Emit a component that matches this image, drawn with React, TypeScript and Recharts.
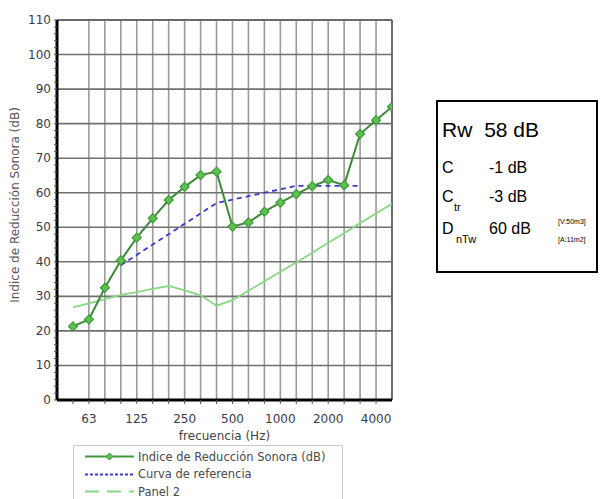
import React from 'react';
import { ComposedChart, Line, XAxis, YAxis, CartesianGrid, ReferenceLine } from 'recharts';

// Third-octave bands (Hz)
const bands = ['50', '63', '80', '100', '125', '160', '200', '250', '315', '400', '500', '630', '800', '1000', '1250', '1600', '2000', '2500', '3150', '4000', '5000'];
// Sound reduction index R (dB)
const reductionIndex = [21.3, 23.3, 32.5, 40.4, 47.0, 52.6, 57.9, 61.7, 65.1, 66.1, 50.2, 51.4, 54.5, 57.1, 59.6, 61.9, 63.7, 62.2, 77.0, 81.0, 84.9];
// Shifted reference curve (ISO 717-1), 100 Hz - 3150 Hz
const referenceCurve: (number | null)[] = [null, null, null, 39, 42, 45, 48, 51, 54, 57, 58, 59, 60, 61, 62, 62, 62, 62, 62, null, null];
// Panel 2
const panel2 = [26.8, 28.0, 29.2, 30.4, 31.2, 32.2, 33.0, 31.7, 30.3, 27.3, 28.9, 31.6, 34.4, 37.1, 39.8, 42.6, 45.5, 48.3, 51.2, 54.0, 56.8];

const labelledBands = ['63', '125', '250', '500', '1000', '2000', '4000'];
const yTicks = [0, 10, 20, 30, 40, 50, 60, 70, 80, 90, 100, 110];

const data = bands.map((b, i) => ({
  i,
  band: b,
  r: reductionIndex[i],
  ref: referenceCurve[i],
  p2: panel2[i],
}));

const bandTicks = bands.map((_, i) => i).slice(0, bands.length - 1);
const yMinorTicks = Array.from({ length: 56 }, (_, k) => k * 2);

const FONT = '"DejaVu Sans", Verdana, sans-serif';

const Diamond = (props: any) => {
  const { cx, cy } = props;
  if (cx == null || cy == null) return null;
  const s = 4.5;
  return (
    <path
      d={`M${cx},${cy - s}L${cx + s},${cy}L${cx},${cy + s}L${cx - s},${cy}Z`}
      fill="#5cc24f"
      stroke="#3f9a3a"
      strokeWidth={1.2}
    />
  );
};

const XTick = (props: any) => {
  const { x, y, payload } = props;
  const label = bands[payload.value];
  if (!labelledBands.includes(label)) return null;
  return (
    <text x={x} y={y + 17} textAnchor="middle" fontSize={12} fontFamily={FONT} fill="#3a3a48">
      {label}
    </text>
  );
};

const YTick = (props: any) => {
  const { x, y, payload } = props;
  if (payload.value % 10 !== 0) return null;
  return (
    <text x={x - 1} y={y + 4} textAnchor="end" fontSize={12} fontFamily={FONT} fill="#3a3a48">
      {payload.value}
    </text>
  );
};

const legendItems = [
  { name: 'Indice de Reducción Sonora (dB)', color: '#3f9a3a', dash: undefined, marker: true },
  { name: 'Curva de referencia', color: '#3a3acc', dash: '3 2', marker: false },
  { name: 'Panel 2', color: '#86d883', dash: '14 8', marker: false },
];

export default function App() {
  return (
    <div style={{ position: 'absolute', left: 0, top: 0, width: 600, height: 499, background: '#fff', overflow: 'hidden' }}>
      <ComposedChart
        width={600}
        height={499}
        data={data}
        margin={{ top: 20, right: 208, left: 0, bottom: 74 }}
      >
        <CartesianGrid horizontal={false} vertical verticalValues={bandTicks.slice(1).concat([20])} stroke="#9a9a9a" strokeWidth={1.6} strokeDasharray="" />
        <CartesianGrid vertical={false} horizontal horizontalValues={yTicks.slice(1)} stroke="#707070" strokeWidth={1.6} strokeDasharray="" />
        <ReferenceLine y={110} stroke="#6a6a6a" strokeWidth={2} />
        <ReferenceLine x={20} stroke="#6a6a6a" strokeWidth={2} />
        <XAxis
          type="number"
          dataKey="i"
          domain={[-1, 20]}
          ticks={bandTicks}
          interval={0}
          height={25}
          tick={<XTick />}
          tickSize={4}
          tickLine={{ stroke: '#555', strokeWidth: 1 }}
          axisLine={{ stroke: '#000', strokeWidth: 3 }}
          allowDataOverflow
          label={{ value: 'frecuencia (Hz)', position: 'bottom', offset: 6, fontSize: 12, fontFamily: FONT, fill: '#444' }}
        />
        <YAxis
          type="number"
          domain={[0, 110]}
          ticks={yMinorTicks}
          interval={0}
          width={57}
          tick={<YTick />}
          tickSize={3}
          tickLine={{ stroke: '#555', strokeWidth: 1 }}
          axisLine={{ stroke: '#000', strokeWidth: 3 }}
          allowDataOverflow
          label={{ value: 'Indice de Reducción Sonora (dB)', angle: -90, position: 'center', dx: -14, dy: -5, fontSize: 12, fontFamily: FONT, fill: '#555' }}
        />
        <Line dataKey="p2" stroke="#86d883" strokeWidth={1.8} dot={false} isAnimationActive={false} />
        <Line dataKey="ref" stroke="#3a3acc" strokeWidth={1.8} strokeDasharray="5 4" dot={false} connectNulls={false} isAnimationActive={false} />
        <Line dataKey="r" stroke="#3f8a3a" strokeWidth={2} dot={<Diamond />} isAnimationActive={false} />
      </ComposedChart>

      {/* legend */}
      <div
        style={{
          position: 'absolute',
          left: 73,
          top: 445,
          width: 270,
          height: 60,
          border: '1px solid #c8c8c8',
          boxSizing: 'border-box',
          fontFamily: FONT,
          fontSize: 11.5,
          color: '#4a4a4a',
        }}
      >
        {legendItems.map((it, k) => (
          <div key={it.name} style={{ position: 'absolute', left: 0, top: 2 + k * 17.5, height: 17, display: 'flex', alignItems: 'center' }}>
            <svg width={64} height={17} style={{ display: 'block' }}>
              <line x1={11} x2={60} y1={8.5} y2={8.5} stroke={it.color} strokeWidth={1.8} strokeDasharray={it.dash} />
              {it.marker && <path d="M35.5,5L39,8.5L35.5,12L32,8.5Z" fill="#5cc24f" stroke="#3f9a3a" strokeWidth={1} />}
            </svg>
            <span style={{ whiteSpace: 'nowrap' }}>{it.name}</span>
          </div>
        ))}
      </div>

      {/* weighted results */}
      <div
        style={{
          position: 'absolute',
          left: 436,
          top: 100,
          width: 162,
          height: 173,
          border: '2px solid #000',
          boxSizing: 'border-box',
          fontFamily: '"Liberation Sans", Arial, sans-serif',
          color: '#000',
        }}
      >
        <div style={{ position: 'absolute', left: 4, top: 16, fontSize: 21, whiteSpace: 'nowrap' }}>
          Rw <span style={{ marginLeft: 6 }}>58 dB</span>
        </div>
        <div style={{ position: 'absolute', left: 4, top: 57, fontSize: 16 }}>C</div>
        <div style={{ position: 'absolute', left: 51, top: 57, fontSize: 16 }}>-1 dB</div>
        <div style={{ position: 'absolute', left: 4, top: 86, fontSize: 16 }}>C</div>
        <div style={{ position: 'absolute', left: 16, top: 99, fontSize: 11 }}>tr</div>
        <div style={{ position: 'absolute', left: 51, top: 86, fontSize: 16 }}>-3 dB</div>
        <div style={{ position: 'absolute', left: 4, top: 118, fontSize: 16 }}>D</div>
        <div style={{ position: 'absolute', left: 18, top: 131, fontSize: 11 }}>nTw</div>
        <div style={{ position: 'absolute', left: 51, top: 118, fontSize: 16 }}>60 dB</div>
        <div style={{ position: 'absolute', left: 120, top: 116, fontSize: 7 }}>[V:50m3]</div>
        <div style={{ position: 'absolute', left: 120, top: 134, fontSize: 7 }}>[A:11m2]</div>
      </div>
    </div>
  );
}
